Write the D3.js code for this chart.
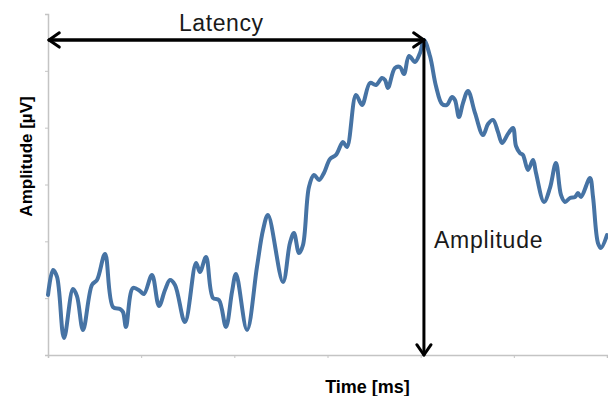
<!DOCTYPE html>
<html>
<head>
<meta charset="utf-8">
<script src="https://cdn.jsdelivr.net/npm/d3@7"></script>
<style>
  html, body { margin: 0; padding: 0; background: #fff; }
  svg { display: block; }
</style>
</head>
<body>
<svg id="chart" width="608" height="396"></svg>
<script>
// Averaged evoked response: time (ms) vs amplitude (µV)
const timeMs = [
  0, 5.4, 9.7, 17.2, 26.8, 31.1, 37.6, 47.2, 52.6, 61.2,
  69.8, 77.3, 80.5, 83.7, 91.2, 98.7, 103.0, 111.6, 119.1, 125.6,
  130.9, 136.3, 147.0, 158.9, 163.1, 169.6, 177.1, 183.5, 191.0, 197.5,
  201.8, 213.6, 224.3, 230.8, 236.1, 252.2, 259.7, 264.0, 269.4, 273.7,
  280.1, 285.5, 290.9, 296.2, 302.7, 309.1, 316.6, 320.9, 330.6, 337.0,
  345.6, 352.0, 358.5, 361.7, 364.9, 372.4, 377.8, 382.1, 387.5, 393.9,
  399.3, 403.5, 410.0, 416.4, 422.9, 428.2, 433.6, 436.8, 441.1, 445.4,
  450.8, 458.3, 466.9, 472.3, 477.6, 483.0, 487.3, 493.7, 499.1, 502.3,
  506.6, 509.8, 515.2, 520.6, 523.8, 532.4, 538.8, 545.2, 550.6, 554.9,
  560.3, 565.6, 568.8, 572.1, 581.7, 585.0, 590.3, 593.5, 600
];
const amplitudeUv = [
  -2.83, -1.51, -1.88, -5.10, -2.52, -2.89, -4.68, -2.30, -2.04, -0.67,
  -3.47, -3.57, -3.73, -4.52, -2.46, -2.62, -2.78, -1.78, -3.41, -2.57,
  -2.04, -2.30, -4.26, -1.14, -1.62, -0.83, -2.99, -3.10, -4.52, -2.67,
  -1.72, -4.68, -1.35, 0.60, 1.39, -2.15, -0.09, 0.44, -0.62, -0.19,
  2.87, 3.50, 3.24, 3.61, 4.35, 4.56, 5.24, 4.98, 7.73, 7.20,
  8.36, 8.25, 8.62, 8.52, 8.10, 9.15, 9.20, 8.83, 9.78, 9.47,
  9.94, 10.63, 9.78, 8.20, 7.25, 7.20, 7.62, 7.46, 6.56, 7.30,
  7.94, 6.78, 5.61, 6.19, 6.41, 5.77, 5.19, 5.67, 5.98, 5.03,
  4.66, 4.56, 3.77, 4.29, 3.61, 2.08, 2.82, 4.14, 2.45, 2.08,
  2.29, 2.34, 2.55, 2.34, 3.34, 2.34, -0.09, -0.35, 0.33
];
const timeTicks = [0, 100, 200, 300, 400, 500, 600];
const amplitudeTicks = [-6, -3, 0, 3, 6, 9, 12];

const svg = d3.select("#chart");
const margin = { left: 48, right: 1, top: 14, bottom: 41 };
const W = 608, H = 396;

const x = d3.scaleLinear().domain([0, 600]).range([margin.left, W - margin.right]);
const y = d3.scaleLinear().domain([-6, 12]).range([H - margin.bottom, margin.top]);

const axisColor = "#c4c4c4";

// Axes: light grey, short outward ticks, no tick labels
const gx = svg.append("g")
  .attr("transform", `translate(0,${y(-6)})`)
  .call(d3.axisBottom(x).tickValues(timeTicks).tickSize(3).tickFormat(""));
const gy = svg.append("g")
  .attr("transform", `translate(${x(0)},0)`)
  .call(d3.axisLeft(y).tickValues(amplitudeTicks).tickSize(3).tickFormat(""));
[gx, gy].forEach(g => {
  g.select(".domain").attr("stroke", axisColor).attr("stroke-width", 1.5);
  g.selectAll(".tick line").attr("stroke", axisColor).attr("stroke-width", 1);
});

// Waveform, smoothed through the sampled points
const data = timeMs.map((t, i) => ({ t, v: amplitudeUv[i] }));
svg.append("path")
  .datum(data)
  .attr("fill", "none")
  .attr("stroke", "#4673a4")
  .attr("stroke-width", 4)
  .attr("stroke-linejoin", "round")
  .attr("stroke-linecap", "round")
  .attr("d", d3.line().curve(d3.curveCatmullRom.alpha(0.5)).x(d => x(d.t)).y(d => y(d.v)));

// Peak used for latency and amplitude arrows
const peak = data.reduce((a, b) => (b.v > a.v ? b : a));
const px = x(peak.t), py = y(peak.v);

function arrow(x1, y1, x2, y2) {
  const g = svg.append("g").attr("stroke", "#000").attr("stroke-width", 3)
    .attr("fill", "none").attr("stroke-linecap", "round").attr("stroke-linejoin", "round");
  g.append("line").attr("x1", x1).attr("y1", y1).attr("x2", x2).attr("y2", y2);
  const ang = Math.atan2(y2 - y1, x2 - x1);
  const len = 12.5, spread = Math.PI / 5.2;
  const pts = [
    [x2 - len * Math.cos(ang - spread), y2 - len * Math.sin(ang - spread)],
    [x2, y2],
    [x2 - len * Math.cos(ang + spread), y2 - len * Math.sin(ang + spread)]
  ];
  g.append("polyline").attr("points", pts.map(p => p.join(",")).join(" "));
}

// Latency: double-headed arrow from the y axis to the peak
arrow(px, py, x(0) + 1, py);
arrow(x(0) + 1, py, px, py);
// Amplitude: from the peak down to the baseline axis
arrow(px, py, px, y(-6));

const font = "'Liberation Sans', Arial, sans-serif";
svg.append("text")
  .attr("x", x(186)).attr("y", py - 9)
  .attr("text-anchor", "middle")
  .attr("font-family", font).attr("font-size", 23)
  .attr("letter-spacing", 0.6)
  .attr("fill", "#1a1a1a")
  .text("Latency");
svg.append("text")
  .attr("x", px + 10).attr("y", y(-0.35))
  .attr("font-family", font).attr("font-size", 23)
  .attr("letter-spacing", 0.8)
  .attr("fill", "#1a1a1a")
  .text("Amplitude");

// Axis titles
svg.append("text")
  .attr("x", (x(0) + x(600)) / 2 + 40).attr("y", 393)
  .attr("text-anchor", "middle")
  .attr("font-family", font).attr("font-weight", "bold").attr("font-size", 18)
  .attr("fill", "#000")
  .text("Time [ms]");
svg.append("text")
  .attr("transform", `translate(32,${(y(-6) + y(12)) / 2 - 28}) rotate(-90)`)
  .attr("text-anchor", "middle")
  .attr("font-family", font).attr("font-weight", "bold").attr("font-size", 17)
  .attr("fill", "#000")
  .text("Amplitude [µV]");
</script>
</body>
</html>
